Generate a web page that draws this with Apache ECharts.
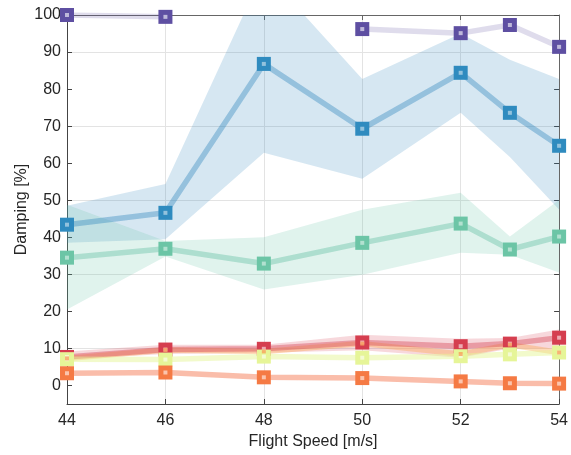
<!DOCTYPE html>
<html>
<head>
<meta charset="utf-8">
<script src="https://cdn.jsdelivr.net/npm/echarts@6/dist/echarts.min.js"></script>
<style>html,body{margin:0;padding:0;background:#fff}#c{width:571px;height:455px}</style>
</head>
<body>
<div id="c"></div>
<script>
// ---- data ----
var speeds = [44, 46, 48, 50, 52, 53, 54];
var yTicks = [0, 10, 20, 30, 40, 50, 60, 70, 80, 90, 100];
var xTicks = [44, 46, 48, 50, 52, 54];

var purple = [100, 99.5, null, 96.2, 95.1, 97.3, 91.4];
var blue = [43.4, 46.6, 86.8, 69.3, 84.4, 73.6, 64.7];
var blueLow = [38.5, 39.5, 62.8, 55.8, 73.6, 61.7, 47.5];
var blueHigh = [48.5, 54.4, 112, 82.7, 95.0, 87.9, 82.7];
var green = [34.5, 36.9, 32.9, 38.5, 43.7, 36.7, 40.2];
var greenLow = [20.5, 34.8, 25.9, 29.9, 35.8, 35.3, 30.5];
var greenHigh = [48.8, 39.0, 40.0, 47.4, 52.0, 40.2, 50.1];
var lightOrange = [7.3, 9.6, 9.2, 11.3, 8.5, 11.0, 8.9];
var red = [7.7, 9.7, 9.9, 11.6, 10.6, 11.3, 12.9];
var redLow = [7.0, 8.5, 8.8, 9.5, 7.5, 10.0, 10.0];
var redHigh = [9.2, 11.0, 11.0, 13.7, 12.6, 12.8, 15.1];
var yellow = [7.1, 7.0, 7.8, 7.5, 7.9, 8.4, 8.9];
var orange = [3.3, 3.5, 2.2, 2.0, 1.1, 0.6, 0.5];

function pts(arr) { return speeds.map(function (x, i) { return [x, arr[i]]; }); }

var series = [];
function band(lo, hi, color) {
  series.push({
    type: 'custom', silent: true, z: 1,
    data: speeds.map(function (x, i) { return [x, lo[i], hi[i]]; }),
    encode: { x: 0, y: [1, 2] },
    renderItem: function (params, api) {
      if (params.dataIndex !== 0) return null;
      var top = [], bot = [];
      for (var i = 0; i < speeds.length; i++) {
        top.push(api.coord([speeds[i], hi[i]]));
        bot.unshift(api.coord([speeds[i], lo[i]]));
      }
      var cs = params.coordSys;
      return { type: 'polygon', shape: { points: top.concat(bot) }, style: { fill: color },
        clipPath: { type: 'rect', shape: { x: cs.x, y: cs.y, width: cs.width, height: cs.height } } };
    }
  });
}
band(blueLow, blueHigh, 'rgba(50,136,189,0.2)');
band(greenLow, greenHigh, 'rgba(102,194,165,0.2)');
band(redLow, redHigh, 'rgba(213,62,79,0.2)');

function line(data, lineColor, markColor, showSym) {
  series.push({ type: 'line', data: pts(data), connectNulls: false,
    symbol: 'rect', symbolSize: 14, showSymbol: showSym,
    itemStyle: { color: markColor, opacity: showSym ? 1 : 0 },
    lineStyle: { color: lineColor, width: 5.5 }, z: 2 });
}
line(purple, 'rgba(94,79,162,0.2)', '#5e4fa2', true);
line(blue, 'rgba(50,136,189,0.4)', '#2f8bbf', true);
line(green, 'rgba(102,194,165,0.42)', '#6cc5a6', true);
line(lightOrange, 'rgba(253,174,97,0.45)', '#fdae61', false);
line(red, 'rgba(213,62,79,0.4)', '#d53e4f', true);
line(yellow, 'rgba(230,245,152,0.5)', '#e6f598', true);
line(orange, 'rgba(244,109,67,0.45)', '#f57a44', true);

function inner(data, color) {
  series.push({ type: 'scatter', data: pts(data).filter(function (p) { return p[1] != null; }),
    symbol: 'rect', symbolSize: 4, itemStyle: { color: color }, z: 5, silent: true });
}
inner(purple, 'rgba(255,255,255,0.75)');
inner(blue, 'rgba(255,255,255,0.6)');
inner(green, 'rgba(255,255,255,0.6)');
inner(red, 'rgba(255,255,255,0.7)');
inner(yellow, 'rgba(255,255,255,0.7)');
inner(orange, 'rgba(255,255,255,0.7)');
inner(lightOrange, '#f7a25c');

var txt = '#262626';
var font = 'Liberation Sans';
var chart = echarts.init(document.getElementById('c'));
chart.setOption({
  animation: false,
  grid: { left: 67, right: 11, top: 15, bottom: 51, containLabel: false },
  xAxis: [{
    type: 'value', min: 44, max: 54, interval: 2,
    name: 'Flight Speed [m/s]', nameLocation: 'middle', nameGap: 30,
    nameTextStyle: { color: txt, fontSize: 16, fontFamily: font },
    axisLine: { onZero: false, lineStyle: { color: '#444', width: 1 } },
    axisTick: { inside: true, length: 5, lineStyle: { color: '#444' } },
    axisLabel: { color: txt, fontSize: 16, fontFamily: font, margin: 9 },
    splitLine: { show: true, lineStyle: { color: '#e3e3e3', width: 1 } }
  }, {
    type: 'value', min: 44, max: 54, interval: 2, position: 'top',
    axisLine: { onZero: false, lineStyle: { color: '#666' } },
    axisTick: { inside: true, length: 5, lineStyle: { color: '#666' } },
    axisLabel: { show: false }, splitLine: { show: false }
  }],
  yAxis: [{
    type: 'value', min: -5, max: 100, interval: 5,
    name: 'Damping [%]', nameLocation: 'middle', nameGap: 37, nameMoveOverlap: false,
    nameTextStyle: { color: txt, fontSize: 16, fontFamily: font },
    axisLine: { show: true, onZero: false, lineStyle: { color: '#444' } },
    axisTick: { show: true, inside: true, length: 5, customValues: yTicks, lineStyle: { color: '#444' } },
    axisLabel: { color: txt, fontSize: 16, fontFamily: font, margin: 6, customValues: yTicks },
    splitLine: { show: true, lineStyle: { color: ['rgba(0,0,0,0)', '#e3e3e3'], width: 1 } }
  }, {
    type: 'value', min: -5, max: 100, interval: 5, position: 'right',
    axisLine: { show: true, onZero: false, lineStyle: { color: '#666' } },
    axisTick: { show: true, inside: true, length: 5, customValues: yTicks, lineStyle: { color: '#444' } },
    axisLabel: { show: false }, splitLine: { show: false }
  }],
  series: series
});
</script>
</body>
</html>
